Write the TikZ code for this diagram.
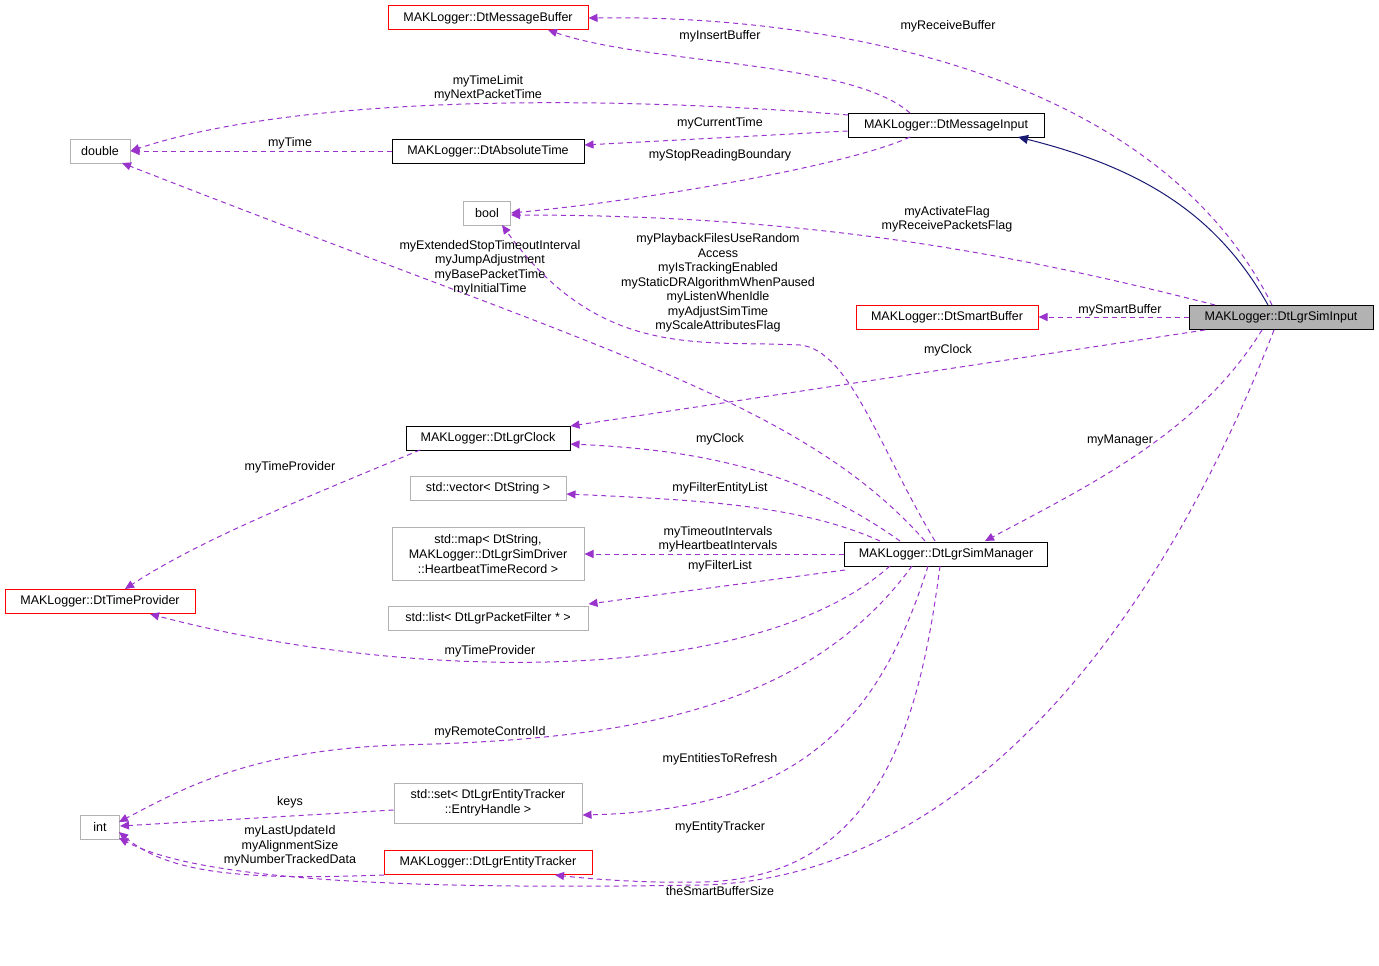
\documentclass[tikz,border=0pt]{standalone}
\usepackage{fontspec}
\setmainfont{Liberation Sans}
\usetikzlibrary{arrows.meta}
\definecolor{pur}{rgb}{0.6,0.2,0.8}
\definecolor{nav}{rgb}{0.1,0.1,0.45}
\begin{document}
\begin{tikzpicture}[x=1pt,y=-1pt,
 font=\fontsize{12.5}{14}\selectfont,
 box/.style={draw, rectangle, line width=1pt, inner sep=0pt, minimum height=24pt, align=center, fill=white},
 bl/.style={box, draw=black},
 rd/.style={box, draw=red},
 gr/.style={box, draw=black!30},
 lab/.style={inner sep=0pt, align=center, font=\fontsize{12.5}{14}\selectfont},
 e/.style={color=pur, line width=1pt, dash pattern=on 5pt off 4pt, -{Triangle[length=9pt,width=8pt]}}]
\useasboundingbox (0,0) rectangle (1379,966);
% nodes
\node[rd, minimum width=200pt] (mb) at (488,18) {MAKLogger::DtMessageBuffer};
\node[bl, minimum width=196pt] (mi) at (946,125) {MAKLogger::DtMessageInput};
\node[gr, minimum width=60pt] (dbl) at (100,151) {double};
\node[bl, minimum width=192pt] (at) at (488,151) {MAKLogger::DtAbsoluteTime};
\node[gr, minimum width=47pt] (bool) at (487,213) {bool};
\node[rd, minimum width=182pt] (sb) at (947,317) {MAKLogger::DtSmartBuffer};
\node[bl, fill=black!30, minimum width=184pt] (si) at (1281,317) {MAKLogger::DtLgrSimInput};
\node[bl, minimum width=164pt] (clk) at (488,438) {MAKLogger::DtLgrClock};
\node[gr, minimum width=156pt] (vec) at (488,488) {std::vector< DtString >};
\node[gr, minimum width=192pt, minimum height=53pt, font=\fontsize{12.5}{15}\selectfont] (map) at (488,554) {std::map< DtString,\\ MAKLogger::DtLgrSimDriver\\ ::HeartbeatTimeRecord >};
\node[bl, minimum width=203pt] (sm) at (946,554) {MAKLogger::DtLgrSimManager};
\node[rd, minimum width=190pt] (tp) at (100,601) {MAKLogger::DtTimeProvider};
\node[gr, minimum width=200pt] (lst) at (488,618) {std::list< DtLgrPacketFilter * >};
\node[gr, minimum width=188pt, minimum height=40pt, font=\fontsize{12.5}{15}\selectfont] (set) at (488,803) {std::set< DtLgrEntityTracker\\ ::EntryHandle >};
\node[gr, minimum width=39pt] (int) at (100,827) {int};
\node[rd, minimum width=208pt] (et) at (488,862) {MAKLogger::DtLgrEntityTracker};
% edges
\draw[e] (1272,305) .. controls (1150,60) and (800,15) .. (mb.east);
\draw[e] (910,113) .. controls (850,60) and (650,65) .. (548,30);
\draw[e] (848,115) .. controls (600,95) and (300,95) .. (dbl.east);
\draw[e] (mi.west |- 0,131) -- (at.east |- 0,145);
\draw[e] (at.west) -- (dbl.east);
\draw[e] (910,137) .. controls (850,165) and (650,200) .. (bool.east);
\draw[draw=nav, line width=1pt, -{Triangle[length=10pt,width=9pt]}] (1268,305) .. controls (1220,220) and (1150,170) .. (1018,137);
\draw[e] (1215,305) .. controls (1000,250) and (800,215) .. (bool.east |- 0,215);
\draw[e] (si.west) -- (sb.east);
\draw[e] (1205,330) -- (clk.east |- 0,426);
\draw[e] (1262,330) .. controls (1200,430) and (1100,480) .. (985,541);
\draw[e] (1274,330) .. controls (1150,650) and (950,880) .. (700,885) .. controls (400,890) and (200,880) .. (119,838);
\draw[e] (925,541) .. controls (800,400) and (600,350) .. (122,163);
\draw[e] (935,541) .. controls (880,450) and (850,350) .. (800,345) .. controls (700,340) and (600,360) .. (502,225);
\draw[e] (900,541) .. controls (800,470) and (700,450) .. (clk.east |- 0,444);
\draw[e] (880,541) .. controls (800,505) and (700,500) .. (vec.east |- 0,494);
\draw[e] (sm.west) -- (map.east);
\draw[e] (845,570) -- (lst.east |- 0,604);
\draw[e] (890,566) .. controls (750,690) and (400,680) .. (150,614);
\draw[e] (420,450) .. controls (300,500) and (200,540) .. (125,589);
\draw[e] (912,566) .. controls (800,720) and (600,740) .. (400,745) .. controls (250,750) and (180,790) .. (119,822);
\draw[e] (928,566) .. controls (880,720) and (800,810) .. (set.east |- 0,815);
\draw[e] (940,566) .. controls (920,720) and (880,880) .. (700,882) .. controls (650,883) and (600,880) .. (555,875);
\draw[e] (set.west |- 0,810) -- (int.east |- 0,826);
\draw[e] (384,875) .. controls (250,880) and (170,875) .. (119,832);
% labels
\node[lab] (l1) at (948,26) {myReceiveBuffer};
\node[lab] (l2) at (720,36) {myInsertBuffer};
\node[lab] (l3) at (488,88) {myTimeLimit\\myNextPacketTime};
\node[lab] (l4) at (720,123) {myCurrentTime};
\node[lab] (l5) at (290,143) {myTime};
\node[lab] (l6) at (720,155) {myStopReadingBoundary};
\node[lab] (l7) at (947,219) {myActivateFlag\\myReceivePacketsFlag};
\node[lab] (l8) at (1120,310) {mySmartBuffer};
\node[lab] (l9) at (948,350) {myClock};
\node[lab] (l10) at (1120,440) {myManager};
\node[lab] (l11) at (720,891) {theSmartBufferSize};
\node[lab, font=\fontsize{12.5}{14.5}\selectfont] (l12) at (490,268) {myExtendedStopTimeoutInterval\\myJumpAdjustment\\myBasePacketTime\\myInitialTime};
\node[lab, font=\fontsize{12.5}{14.5}\selectfont] (l13) at (718,283) {myPlaybackFilesUseRandom\\Access\\myIsTrackingEnabled\\myStaticDRAlgorithmWhenPaused\\myListenWhenIdle\\myAdjustSimTime\\myScaleAttributesFlag};
\node[lab] (l14) at (720,439) {myClock};
\node[lab] (l15) at (720,488) {myFilterEntityList};
\node[lab] (l16) at (718,539) {myTimeoutIntervals\\myHeartbeatIntervals};
\node[lab] (l17) at (720,566) {myFilterList};
\node[lab] (l18) at (490,651) {myTimeProvider};
\node[lab] (l19) at (290,467) {myTimeProvider};
\node[lab] (l20) at (490,732) {myRemoteControlId};
\node[lab] (l21) at (720,759) {myEntitiesToRefresh};
\node[lab] (l22) at (720,827) {myEntityTracker};
\node[lab] (l23) at (290,802) {keys};
\node[lab, font=\fontsize{12.5}{14.5}\selectfont] (l24) at (290,846) {myLastUpdateId\\myAlignmentSize\\myNumberTrackedData};
\end{tikzpicture}
\end{document}
